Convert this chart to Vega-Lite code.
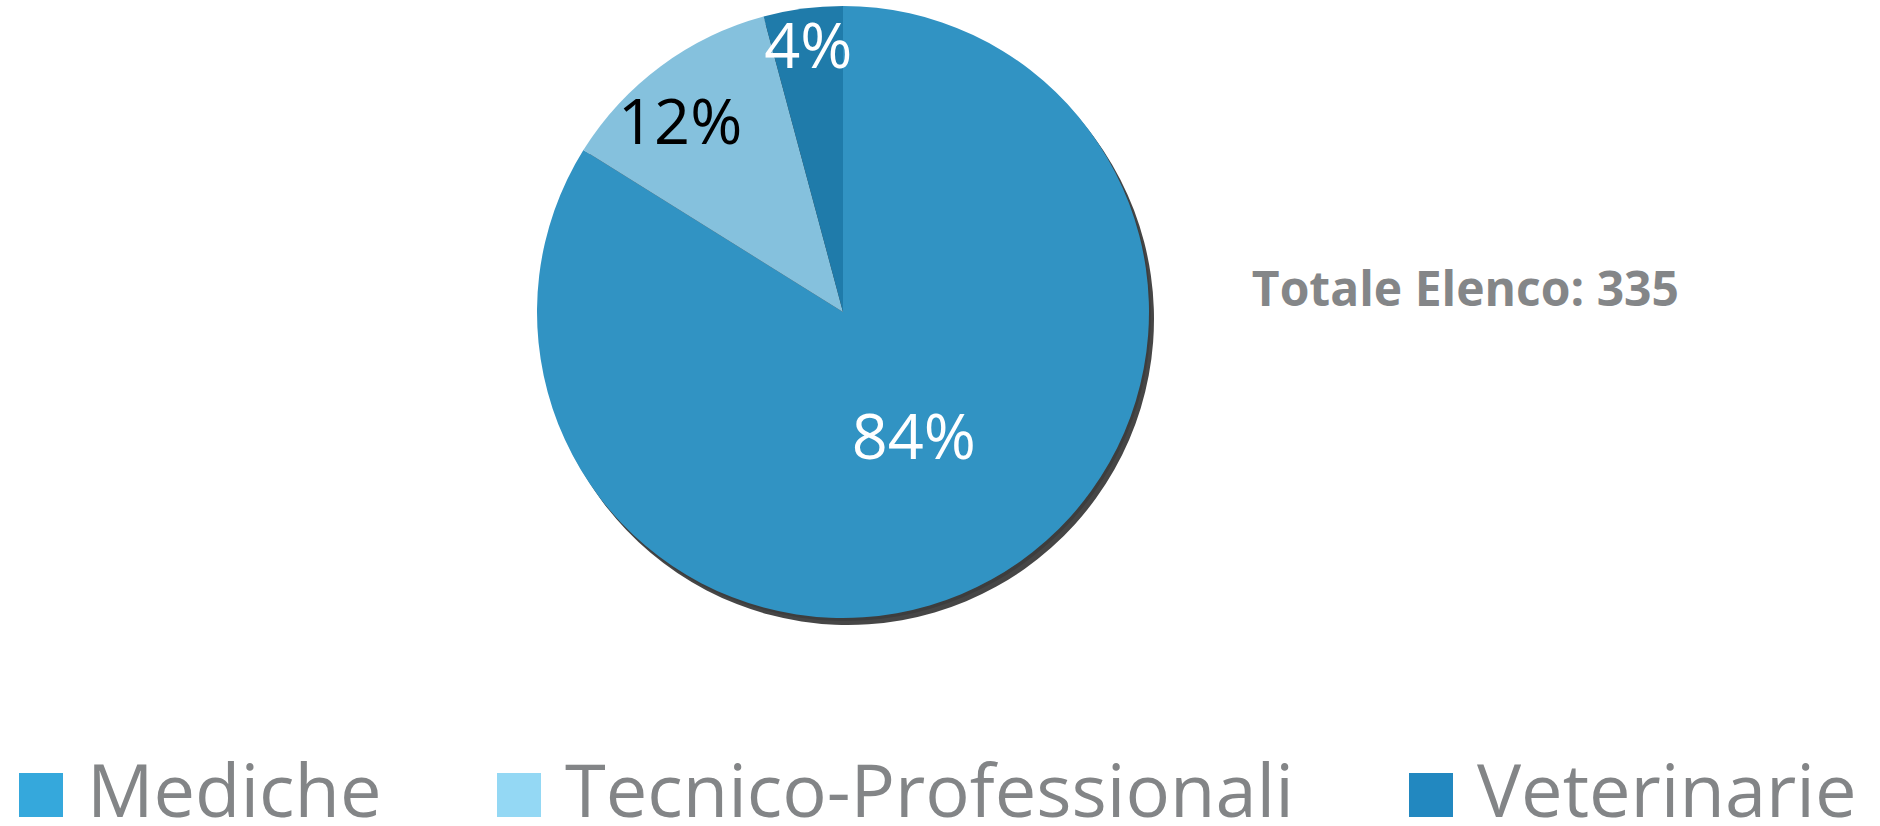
{
  "$schema": "https://vega.github.io/schema/vega-lite/v6.json",
  "autosize": {"type": "none"},
  "width": 1686,
  "height": 624,
  "padding": {"left": 0, "top": 0, "right": 194, "bottom": 202},
  "background": "white",
  "config": {"view": {"stroke": null}, "font": "Open Sans"},
  "title": {
    "text": "Totale Elenco: 335",
    "orient": "top",
    "anchor": "end",
    "frame": "group",
    "baseline": "alphabetic",
    "offset": 0,
    "dy": 354,
    "dx": -7,
    "font": "Open Sans",
    "fontWeight": "bold",
    "fontSize": 48,
    "color": "#848688"
  },
  "data": {
    "values": [
      {"cat": "Mediche", "n": 281, "label": "84%"},
      {"cat": "Tecnico-Professionali", "n": 40, "label": "12%"},
      {"cat": "Veterinarie", "n": 14, "label": "4%"}
    ]
  },
  "layer": [
    {
      "mark": {"type": "arc", "outerRadius": 306, "fill": "#9a9a9a", "xOffset": 2, "yOffset": 3, "opacity": 0.6},
      "encoding": {
        "theta": {"field": "n", "type": "quantitative", "stack": true},
        "order": {"field": "cat", "type": "ordinal", "sort": "ascending"}
      }
    },
    {
      "mark": {"type": "arc", "outerRadius": 306, "fill": "#262626", "xOffset": 5, "yOffset": 7, "opacity": 0.85},
      "encoding": {
        "theta": {"field": "n", "type": "quantitative", "stack": true},
        "order": {"field": "cat", "type": "ordinal", "sort": "ascending"}
      }
    },
    {
      "mark": {"type": "arc", "outerRadius": 306, "stroke": null},
      "encoding": {
        "theta": {"field": "n", "type": "quantitative", "stack": true},
        "order": {"field": "cat", "type": "ordinal", "sort": "ascending"},
        "fill": {
          "field": "cat",
          "type": "nominal",
          "scale": {"domain": ["Mediche", "Tecnico-Professionali", "Veterinarie"], "range": ["#3193C3", "#85C1DD", "#1F7BAA"]},
          "legend": null
        }
      }
    },
    {
      "mark": {"type": "text", "font": "Open Sans", "fontSize": 63, "align": "center", "baseline": "middle", "radius": 146, "fill": "#ffffff"},
      "encoding": {
        "theta": {"field": "n", "type": "quantitative", "stack": true},
        "order": {"field": "cat", "type": "ordinal", "sort": "ascending"},
        "text": {"condition": {"test": "datum.cat === 'Mediche'", "field": "label"}, "value": ""}
      }
    },
    {
      "mark": {"type": "text", "font": "Open Sans", "fontSize": 63, "align": "center", "baseline": "middle", "radius": 250, "dx": -14, "dy": 14, "fill": "#000000"},
      "encoding": {
        "theta": {"field": "n", "type": "quantitative", "stack": true},
        "order": {"field": "cat", "type": "ordinal", "sort": "ascending"},
        "text": {"condition": {"test": "datum.cat === 'Tecnico-Professionali'", "field": "label"}, "value": ""}
      }
    },
    {
      "mark": {"type": "text", "font": "Open Sans", "fontSize": 63, "align": "center", "baseline": "middle", "radius": 265, "fill": "#ffffff"},
      "encoding": {
        "theta": {"field": "n", "type": "quantitative", "stack": true},
        "order": {"field": "cat", "type": "ordinal", "sort": "ascending"},
        "text": {"condition": {"test": "datum.cat === 'Veterinarie'", "field": "label"}, "value": ""}
      }
    },
    {
      "mark": {"type": "square", "opacity": 0, "size": 1},
      "encoding": {
        "color": {
          "field": "cat",
          "type": "nominal",
          "scale": {"domain": ["Mediche", "Tecnico-Professionali", "Veterinarie"], "range": ["#35A8DC", "#94D8F4", "#2288C0"]},
          "legend": {
            "title": null,
            "orient": "none",
            "direction": "horizontal",
            "legendX": 4,
            "legendY": 758,
            "padding": 0,
            "symbolType": "square",
            "symbolSize": 1936,
            "symbolOpacity": 1,
            "symbolStrokeWidth": 0,
            "labelFont": "Open Sans",
            "labelFontSize": 74,
            "labelColor": "#838587",
            "labelOffset": 9,
            "labelLimit": 1000,
            "columnPadding": 100
          }
        }
      }
    }
  ],
  "resolve": {"scale": {"color": "independent", "fill": "independent"}}
}
